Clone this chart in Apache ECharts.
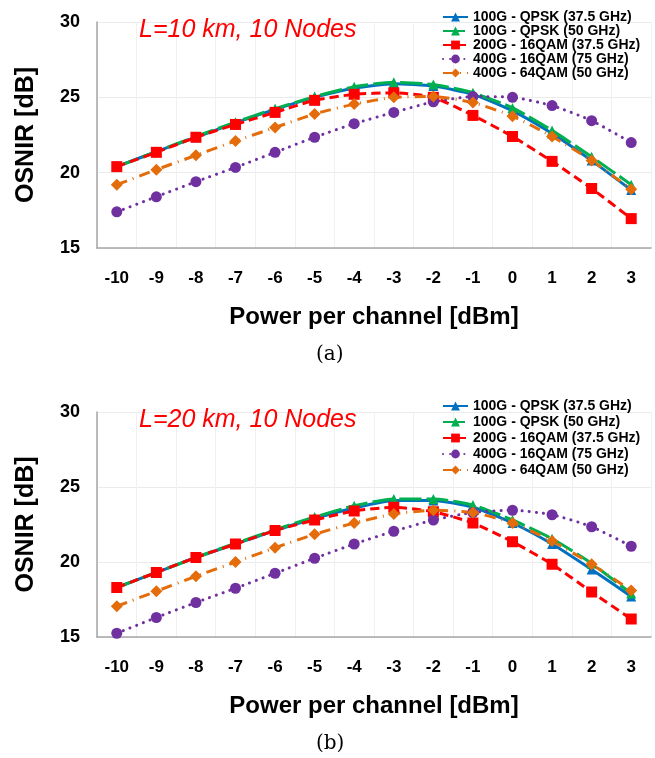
<!DOCTYPE html>
<html>
<head>
<meta charset="utf-8">
<script src="https://cdn.jsdelivr.net/npm/echarts@6/dist/echarts.min.js"></script>
<style>
  html, body { margin: 0; padding: 0; background: #fff; }
  #chart { width: 655px; height: 758px; }
</style>
</head>
<body>
<div id="chart"></div>
<script>
// power per channel [dBm]
const xLabels = ['-10', '-9', '-8', '-7', '-6', '-5', '-4', '-3', '-2', '-1', '0', '1', '2', '3']
const seriesNames = ['100G - QPSK (37.5 GHz)', '100G - QPSK (50 GHz)', '200G - 16QAM (37.5 GHz)', '400G - 16QAM (75 GHz)', '400G - 64QAM (50 GHz)']

// (a) L=10 km, 10 Nodes
const a_qpsk375 = [20.4, 21.4, 22.35, 23.3, 24.2, 25.0, 25.6, 25.9, 25.75, 25.2, 24.1, 22.6, 20.8, 18.85]
const a_qpsk50 = [20.4, 21.4, 22.4, 23.35, 24.25, 25.05, 25.7, 26.0, 25.85, 25.3, 24.3, 22.8, 21.05, 19.2]
const a_16qam375 = [20.4, 21.35, 22.35, 23.2, 24.0, 24.8, 25.2, 25.3, 25.0, 23.8, 22.4, 20.75, 18.95, 16.95]
const a_16qam75 = [17.4, 18.4, 19.4, 20.35, 21.35, 22.35, 23.25, 24.0, 24.7, 25.05, 25.0, 24.45, 23.45, 22.0]
const a_64qam50 = [19.2, 20.2, 21.15, 22.1, 23.0, 23.9, 24.55, 25.0, 25.05, 24.65, 23.75, 22.4, 20.8, 18.9]

// (b) L=20 km, 10 Nodes
const b_qpsk375 = [18.3, 19.3, 20.3, 21.2, 22.1, 22.9, 23.6, 24.1, 24.1, 23.65, 22.6, 21.2, 19.5, 17.7]
const b_qpsk50 = [18.3, 19.3, 20.3, 21.25, 22.15, 23.0, 23.75, 24.2, 24.2, 23.8, 22.8, 21.55, 19.9, 17.9]
const b_16qam375 = [18.3, 19.3, 20.3, 21.2, 22.1, 22.8, 23.4, 23.65, 23.35, 22.6, 21.35, 19.85, 18.0, 16.2]
const b_16qam75 = [15.25, 16.3, 17.3, 18.25, 19.25, 20.25, 21.2, 22.05, 22.8, 23.3, 23.45, 23.15, 22.35, 21.05]
const b_64qam50 = [17.05, 18.05, 19.05, 20.0, 20.95, 21.85, 22.6, 23.2, 23.45, 23.3, 22.6, 21.4, 19.85, 18.1]

const FONT = 'Liberation Sans, Arial, sans-serif'

// line look per series: color, dash, marker
const styles = [
  { color: '#0070C0', type: 'solid', symbol: 'triangle', size: 10 },
  { color: '#00B050', type: [22, 5], symbol: 'triangle', size: 10 },
  { color: '#FF0000', type: [9, 5], symbol: 'rect', size: 11 },
  { color: '#7030A0', type: [0.1, 7], symbol: 'circle', size: 11 },
  { color: '#E46C0A', type: [11, 6, 1, 6], symbol: 'diamond', size: 12 }
]

function makeSeries(idx, dataSets) {
  return dataSets.map((d, i) => ({
    name: seriesNames[i],
    type: 'line',
    xAxisIndex: idx,
    yAxisIndex: idx,
    data: d,
    smooth: 0.2,
    symbol: styles[i].symbol,
    symbolSize: styles[i].size,
    itemStyle: { color: styles[i].color },
    lineStyle: { color: styles[i].color, width: 3, type: styles[i].type, cap: i === 3 ? 'round' : 'butt' }
  }))
}

function xAxisOf(idx) {
  return {
    type: 'category',
    gridIndex: idx,
    data: xLabels,
    boundaryGap: true,
    name: 'Power per channel [dBm]',
    nameLocation: 'middle',
    nameGap: 57,
    nameTextStyle: { fontFamily: FONT, fontSize: 24, fontWeight: 'bold', color: '#000' },
    axisLine: { lineStyle: { color: '#A6A6A6', width: 1.5 } },
    axisTick: { show: false },
    axisLabel: { fontFamily: FONT, fontSize: 17, fontWeight: 'bold', color: '#000', margin: 22 },
    splitLine: { show: true, lineStyle: { color: '#F0F0F0' } }
  }
}

function yAxisOf(idx) {
  return {
    type: 'value',
    gridIndex: idx,
    min: 15,
    max: 30,
    interval: 5,
    name: 'OSNIR [dB]',
    nameLocation: 'middle',
    nameGap: 58,
    nameTextStyle: { fontFamily: FONT, fontSize: 25, fontWeight: 'bold', color: '#000' },
    axisLine: { show: true, lineStyle: { color: '#A6A6A6', width: 1.5 } },
    axisTick: { show: false },
    axisLabel: { fontFamily: FONT, fontSize: 18, fontWeight: 'bold', color: '#000', margin: 17 },
    splitLine: { show: true, lineStyle: { color: '#EBEBEB' } }
  }
}

function legendOf(top, gap) {
  return {
    orient: 'vertical',
    left: 437,
    top: top,
    itemWidth: 25,
    itemHeight: 11,
    itemGap: gap,
    data: seriesNames,
    textStyle: { fontFamily: FONT, fontSize: 14, fontWeight: 'bold', color: '#000' }
  }
}

const option = {
  animation: false,
  backgroundColor: '#fff',
  title: [
    { text: 'L=10 km, 10 Nodes', left: 134, top: 13, textStyle: { fontFamily: FONT, fontSize: 25, fontStyle: 'italic', fontWeight: 'normal', color: '#FF0000' } },
    { text: 'L=20 km, 10 Nodes', left: 134, top: 403, textStyle: { fontFamily: FONT, fontSize: 25, fontStyle: 'italic', fontWeight: 'normal', color: '#FF0000' } }
  ],
  legend: [legendOf(5, 0), legendOf(394, 2)],
  grid: [
    { left: 97, right: 4, top: 22, height: 226 },
    { left: 97, right: 4, top: 412, height: 225 }
  ],
  xAxis: [xAxisOf(0), xAxisOf(1)],
  yAxis: [yAxisOf(0), yAxisOf(1)],
  graphic: [
    { type: 'text', left: 316, top: 345, style: { text: '(a)', font: '20px "DejaVu Serif", serif', fill: '#000' } },
    { type: 'text', left: 316, top: 734, style: { text: '(b)', font: '20px "DejaVu Serif", serif', fill: '#000' } }
  ],
  series: [
    ...makeSeries(0, [a_qpsk375, a_qpsk50, a_16qam375, a_16qam75, a_64qam50]),
    ...makeSeries(1, [b_qpsk375, b_qpsk50, b_16qam375, b_16qam75, b_64qam50])
  ]
}

const myChart = echarts.init(document.getElementById('chart'))
myChart.setOption(option, true)
</script>
</body>
</html>
